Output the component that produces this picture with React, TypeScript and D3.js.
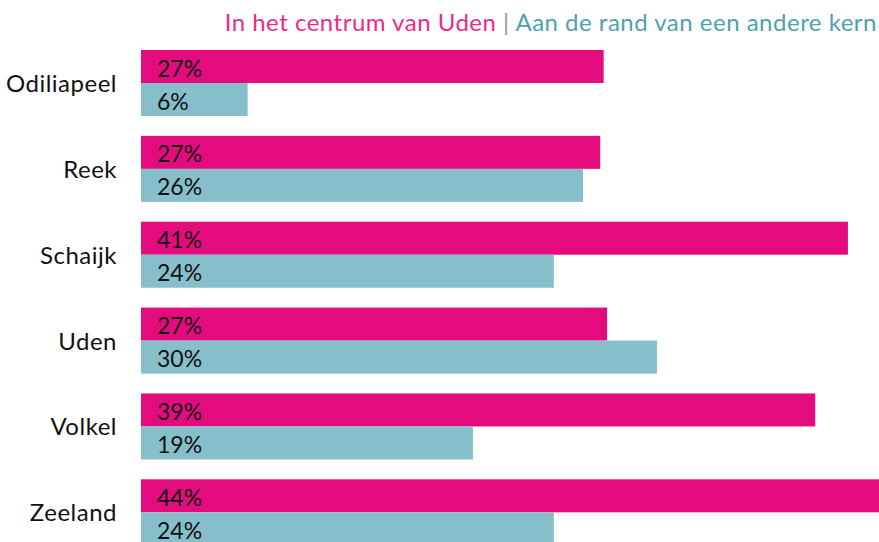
import React from "react";
import * as d3 from "d3";

// categories and the two series (percent)
const places = ["Odiliapeel", "Reek", "Schaijk", "Uden", "Volkel", "Zeeland"];
const centrum = [26.9, 26.7, 41.1, 27.1, 39.2, 44.0];
const rand = [6.2, 25.7, 24.0, 30.0, 19.3, 24.0];
const seriesNames = ["In het centrum van Uden", "Aan de rand van een andere kern"];

const width = 879;
const height = 542;
const pink = "#e40b7e";
const teal = "#86bfca";
const font = "Lato, 'Open Sans', sans-serif";

export default function App() {
  const x = d3.scaleLinear().domain([0, 50]).range([141, 141 + 860]);
  const y = d3
    .scaleBand()
    .domain(places)
    .range([50, 50 + 5.769 * 85.86])
    .paddingInner(0.231)
    .paddingOuter(0);
  const inner = d3.scaleBand().domain(seriesNames).range([0, y.bandwidth()]);

  const rows = places.map((p, i) => ({ place: p, values: [centrum[i], rand[i]] }));
  const colors = [pink, teal];

  return (
    <svg
      width={width}
      height={height}
      style={{ position: "absolute", left: 0, top: 0, display: "block", background: "#fff" }}
      fontFamily={font}
    >
      {/* legend */}
      <text x={877} y={30.5} textAnchor="end" fontSize={24} letterSpacing={0.5}>
        <tspan fill="#ec2a8a">{seriesNames[0]}</tspan>
        <tspan fill="#999999"> | </tspan>
        <tspan fill="#4fa1b1">{seriesNames[1]}</tspan>
      </text>

      {rows.map((r) => {
        const y0 = y(r.place) ?? 0;
        return (
          <g key={r.place}>
            <text
              x={117}
              y={y0 + y.bandwidth() / 2 + 9}
              textAnchor="end"
              fontSize={24}
              letterSpacing={0.5}
              fill="#111"
            >
              {r.place}
            </text>
            {r.values.map((v, j) => {
              const by = y0 + (inner(seriesNames[j]) ?? 0);
              return (
                <g key={j}>
                  <rect
                    x={x(0)}
                    y={by}
                    width={x(v) - x(0)}
                    height={inner.bandwidth()}
                    fill={colors[j]}
                  />
                  <text x={157} y={by + 26.5} fontSize={23} fill="#111">
                    {Math.round(v) + "%"}
                  </text>
                </g>
              );
            })}
          </g>
        );
      })}
    </svg>
  );
}
